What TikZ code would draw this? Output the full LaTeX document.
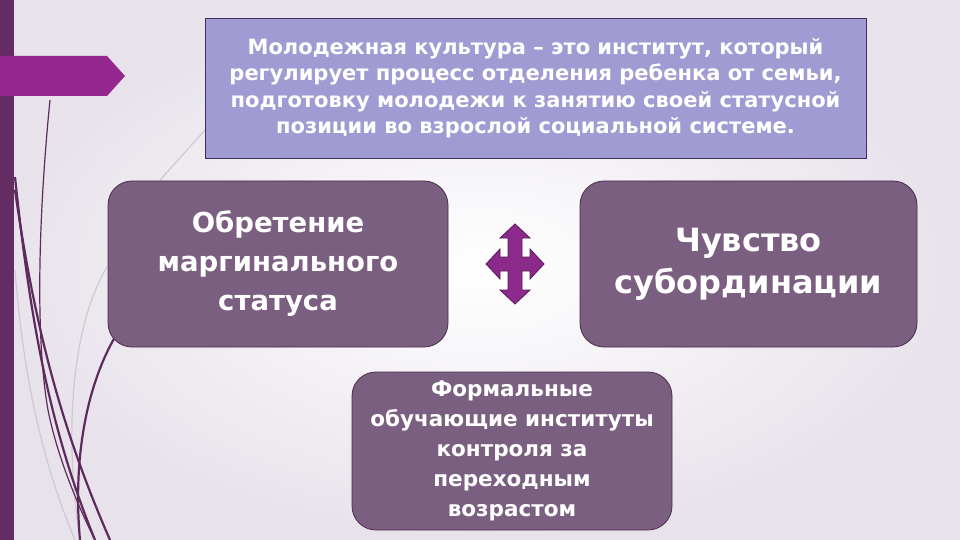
\documentclass[tikz,border=0pt]{standalone}
\usepackage{fontspec}
\setmainfont{DejaVu Sans}
\definecolor{bgc}{HTML}{E8E3EB}
\definecolor{barc}{HTML}{652B63}
\definecolor{tabc}{HTML}{93278F}
\definecolor{topfill}{HTML}{A09BD2}
\definecolor{topdraw}{HTML}{3C2E5E}
\definecolor{boxfill}{HTML}{7B5F80}
\definecolor{boxdraw}{HTML}{4B2B4B}
\definecolor{arrfill}{HTML}{8C2A8C}
\definecolor{arrdraw}{HTML}{5A1A5A}
\definecolor{linec}{HTML}{5E2A5E}
\definecolor{faintc}{HTML}{CFC8D2}
\begin{document}
\begin{tikzpicture}[x=1pt,y=-1pt,
  topbox/.style={draw=topdraw, line width=0.8pt, fill=topfill, text=white,
    minimum width=661pt, minimum height=140pt, align=center, inner sep=0pt,
    font=\fontsize{21}{26.5}\selectfont\bfseries},
  rbox/.style={draw=boxdraw, line width=0.8pt, fill=boxfill, text=white,
    rounded corners=24pt, align=center, inner sep=0pt},
  deco/.style={draw=linec, line width=2.2pt},
  thindeco/.style={draw=linec, line width=1.2pt},
  faint/.style={draw=faintc, line width=1.2pt}]
\useasboundingbox (0,0) rectangle (960,540);
% background
\fill[bgc] (0,0) rectangle (960,540);
\shade[inner color=white, outer color=bgc] (0,0) rectangle (960,540);
% left bar and tab
\fill[barc] (0,0) rectangle (14,540);
\fill[tabc] (0,56) -- (107,56) -- (125,76) -- (107,96) -- (0,96) -- cycle;
% decorative curves
\draw[faint] (205,130) -- (160,180);
\draw[faint] (107,267) .. controls (75,320) and (62,420) .. (80,540);
\draw[faint] (15,270) .. controls (25,400) and (50,480) .. (75,540);
\draw[thindeco] (50,100) .. controls (40,200) and (34,330) .. (48,410)
  .. controls (58,460) and (80,510) .. (95,540);
\draw[deco] (15,177) .. controls (30,320) and (50,430) .. (95,540);
\draw[deco] (15,190) .. controls (35,330) and (62,430) .. (110,540);
\draw[deco] (115,337) .. controls (90,380) and (72,450) .. (80,540);
% boxes
\node[topbox] (top) at (535.5,88) {Молодежная культура – это институт, который\\регулирует процесс отделения ребенка от семьи,\\подготовку молодежи к занятию своей статусной\\позиции во взрослой социальной системе.};
\node[rbox, minimum width=340pt, minimum height=166pt,
  font=\fontsize{27.5}{39}\selectfont\bfseries] (left) at (278,264) {Обретение\\маргинального\\статуса};
\node[rbox, minimum width=337pt, minimum height=166pt,
  font=\fontsize{32}{42}\selectfont\bfseries] (right) at (748.5,264) {Чувство\\субординации};
\node[rbox, minimum width=320pt, minimum height=158pt,
  font=\fontsize{21.5}{30}\selectfont\bfseries] (bottom) at (512,451) {Формальные\\обучающие институты\\контроля за\\переходным\\возрастом};
% four-way arrow
\coordinate (cross) at (515,264);
\filldraw[fill=arrfill, draw=arrdraw, line width=0.8pt]
  (515,224) -- (530,238) -- (522,238) -- (522,257) -- (530,257) -- (530,249)
  -- (544,264) -- (530,279) -- (530,271) -- (522,271) -- (522,290) -- (530,290)
  -- (515,304) -- (500,290) -- (508,290) -- (508,271) -- (500,271) -- (500,279)
  -- (486,264) -- (500,249) -- (500,257) -- (508,257) -- (508,238) -- (500,238) -- cycle;
\end{tikzpicture}
\end{document}
